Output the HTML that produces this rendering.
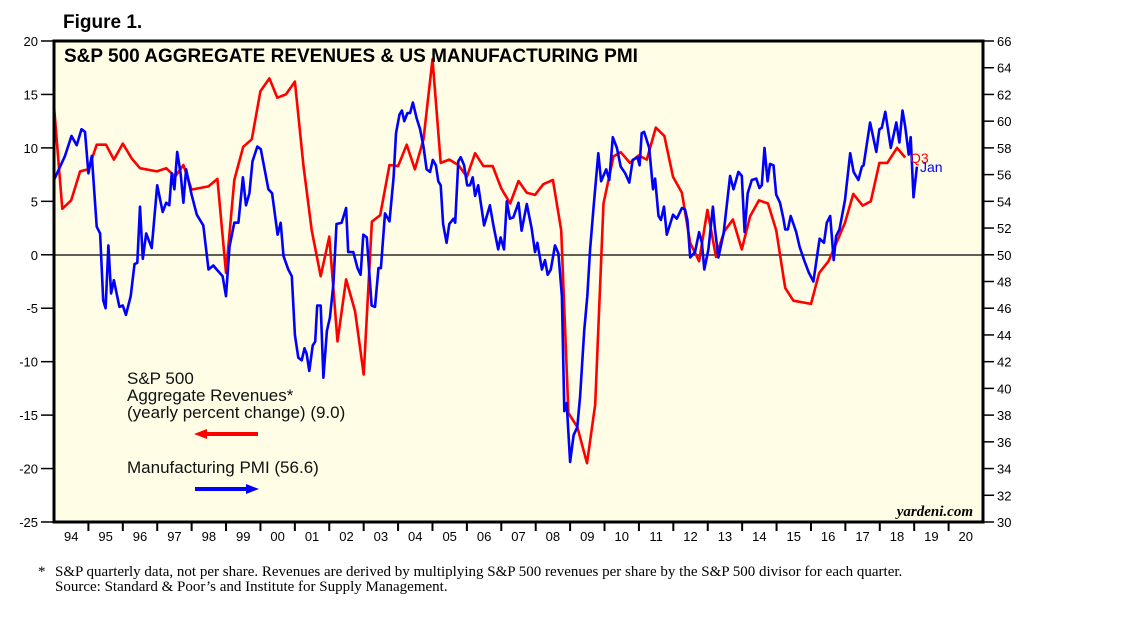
<!DOCTYPE html>
<html><head><meta charset="utf-8"><style>
html,body{margin:0;padding:0;background:#fff;}
svg{display:block;font-family:"Liberation Sans",sans-serif;}
</style></head><body>
<svg id="chart" width="1138" height="621" viewBox="0 0 1138 621">
<text x="63" y="28" font-size="19" font-weight="bold">Figure 1.</text>
<rect x="54" y="41" width="929" height="481" fill="#fffde6"/>
<g id="axes"></g>
<line x1="54" x2="983" y1="255" y2="255" stroke="#000" stroke-width="1.2"/>
<g id="series"></g>
<rect x="54" y="41" width="929" height="481" fill="none" stroke="#000" stroke-width="3"/>
<text x="64" y="62" font-size="19" font-weight="bold">S&amp;P 500 AGGREGATE REVENUES &amp; US MANUFACTURING PMI</text>
<g font-size="17" fill="#111">
<text x="127" y="384">S&amp;P 500</text>
<text x="127" y="401">Aggregate Revenues*</text>
<text x="127" y="418">(yearly percent change) (9.0)</text>
<g><line x1="205" y1="434" x2="258" y2="434" stroke="#f00" stroke-width="4"/><polygon points="194,434 207,429 207,439" fill="#f00"/></g>
<text x="127" y="473">Manufacturing PMI (56.6)</text>
<g><line x1="195" y1="489" x2="248" y2="489" stroke="#00f" stroke-width="4"/><polygon points="259,489 246,484 246,494" fill="#00f"/></g>
</g>
<text x="910" y="163" font-size="14" fill="#f00">Q3</text>
<text x="920" y="172" font-size="14" fill="#00f">Jan</text>
<text x="973" y="516" font-size="15" font-style="italic" font-weight="bold" font-family="Liberation Serif,serif" text-anchor="end">yardeni.com</text>
<text x="38" y="576" font-size="15" font-family="Liberation Serif,serif">*</text>
<text x="55" y="576" font-size="15" font-family="Liberation Serif,serif">S&amp;P quarterly data, not per share. Revenues are derived by multiplying S&amp;P 500 revenues per share by the S&amp;P 500 divisor for each quarter.</text>
<text x="55" y="591" font-size="15" font-family="Liberation Serif,serif">Source: Standard &amp; Poor’s and Institute for Supply Management.</text>
</svg>
<script>
const revDates=[1994.0,1994.24,1994.5,1994.76,1995.0,1995.24,1995.51,1995.74,1996.0,1996.26,1996.5,1996.99,1997.26,1997.52,1997.76,1998.0,1998.49,1998.75,1999.0,1999.24,1999.5,1999.75,2000.0,2000.26,2000.49,2000.74,2001.0,2001.25,2001.49,2001.75,2002.0,2002.24,2002.49,2002.75,2003.0,2003.24,2003.48,2003.75,2004.0,2004.25,2004.49,2004.74,2005.0,2005.24,2005.49,2005.75,2006.0,2006.24,2006.48,2006.75,2007.0,2007.26,2007.5,2007.74,2007.98,2008.22,2008.5,2008.74,2008.95,2009.21,2009.49,2009.73,2009.97,2010.26,2010.47,2010.74,2010.99,2011.23,2011.49,2011.74,2011.99,2012.25,2012.49,2012.75,2012.99,2013.24,2013.48,2013.73,2013.99,2014.23,2014.49,2014.75,2014.99,2015.25,2015.49,2016.0,2016.24,2016.51,2016.75,2016.99,2017.23,2017.5,2017.74,2017.99,2018.22,2018.5,2018.74];
const revValues=[13.9,4.3,5.1,7.8,8.0,10.3,10.3,8.9,10.4,9.0,8.1,7.8,8.1,7.3,8.4,6.1,6.4,7.1,-1.7,7.0,10.1,10.8,15.3,16.5,14.7,15.0,16.2,8.3,2.3,-2.0,1.7,-8.1,-2.3,-5.3,-11.2,3.1,3.7,8.4,8.3,10.3,8.0,10.8,18.3,8.6,8.9,8.4,7.3,9.5,8.3,8.3,6.2,4.8,6.9,5.8,5.6,6.6,7.0,2.3,-14.8,-16.1,-19.5,-14.0,4.8,9.2,9.6,8.6,9.3,8.9,11.9,11.1,7.3,5.8,1.1,-0.6,4.2,-0.2,2.2,3.3,0.5,3.6,5.1,4.8,2.3,-3.1,-4.3,-4.6,-1.7,-0.6,1.2,3.0,5.7,4.6,5.0,8.6,8.6,10.0,9.1];
const pmiDates=[1994.0,1994.32,1994.51,1994.66,1994.8,1994.9,1995.0,1995.1,1995.24,1995.34,1995.43,1995.5,1995.58,1995.66,1995.74,1995.9,1996.0,1996.09,1996.23,1996.34,1996.42,1996.5,1996.58,1996.68,1996.84,1997.0,1997.16,1997.26,1997.35,1997.42,1997.5,1997.58,1997.68,1997.76,1997.84,1998.0,1998.15,1998.34,1998.49,1998.63,1998.73,1998.9,1999.0,1999.1,1999.24,1999.36,1999.49,1999.58,1999.68,1999.77,1999.91,2000.01,2000.23,2000.34,2000.5,2000.59,2000.67,2000.81,2000.91,2001.0,2001.1,2001.2,2001.28,2001.34,2001.42,2001.52,2001.59,2001.65,2001.75,2001.83,2001.93,2002.02,2002.12,2002.21,2002.36,2002.49,2002.55,2002.7,2002.82,2002.91,2002.99,2003.09,2003.23,2003.33,2003.43,2003.5,2003.62,2003.75,2003.87,2003.94,2004.04,2004.11,2004.18,2004.27,2004.35,2004.43,2004.54,2004.64,2004.74,2004.83,2004.93,2005.01,2005.1,2005.17,2005.24,2005.31,2005.41,2005.49,2005.61,2005.66,2005.75,2005.82,2005.92,2006.01,2006.09,2006.17,2006.24,2006.33,2006.5,2006.67,2006.77,2006.91,2006.98,2007.08,2007.16,2007.25,2007.35,2007.5,2007.59,2007.74,2007.88,2007.98,2008.05,2008.18,2008.27,2008.35,2008.44,2008.56,2008.66,2008.76,2008.83,2008.9,2009.0,2009.1,2009.21,2009.29,2009.41,2009.5,2009.58,2009.68,2009.82,2009.9,2010.05,2010.14,2010.24,2010.36,2010.47,2010.6,2010.72,2010.82,2010.96,2011.02,2011.08,2011.15,2011.3,2011.41,2011.47,2011.57,2011.64,2011.73,2011.81,2011.99,2012.1,2012.25,2012.34,2012.41,2012.49,2012.63,2012.75,2012.83,2012.9,2013.02,2013.15,2013.21,2013.31,2013.46,2013.65,2013.75,2013.89,2013.99,2014.07,2014.16,2014.28,2014.41,2014.5,2014.57,2014.65,2014.74,2014.81,2014.91,2014.99,2015.1,2015.2,2015.25,2015.33,2015.41,2015.57,2015.67,2015.8,2015.93,2016.07,2016.25,2016.38,2016.46,2016.56,2016.66,2016.73,2016.83,2016.99,2017.14,2017.24,2017.38,2017.48,2017.53,2017.72,2017.9,2017.99,2018.06,2018.16,2018.32,2018.48,2018.57,2018.66,2018.74,2018.84,2018.9,2018.98,2019.08];
const pmiValues=[55.6,57.4,58.9,58.2,59.4,59.2,56.1,57.4,52.1,51.6,46.6,46.0,50.7,47.1,48.1,46.1,46.2,45.5,46.9,49.3,49.4,53.6,49.7,51.6,50.5,55.2,53.2,53.9,53.7,56.1,54.9,57.7,56.1,53.9,56.4,54.5,53.0,52.2,48.9,49.2,48.9,48.4,46.9,50.6,52.4,52.4,55.8,53.7,54.6,57.0,58.1,57.9,54.9,54.6,51.5,52.4,49.9,48.9,48.4,44.0,42.3,42.1,43.0,42.6,41.3,43.2,43.5,46.2,46.2,40.8,44.3,45.3,47.8,52.3,52.4,53.5,50.2,50.2,49.0,48.5,51.5,51.3,46.2,46.1,49.0,49.0,53.1,52.5,55.8,59.1,60.5,60.8,60.0,60.6,60.6,61.4,60.2,59.4,58.1,56.4,56.2,57.1,56.7,55.5,55.2,52.3,50.9,52.3,52.7,52.4,57.0,57.3,56.7,55.2,55.2,55.8,54.4,55.2,52.2,53.7,52.2,50.4,51.3,50.4,54.0,52.7,52.8,53.9,51.8,53.8,52.0,50.2,50.9,48.9,49.6,48.5,48.9,50.7,50.1,46.9,38.3,38.9,34.5,36.5,37.1,39.4,44.3,46.9,50.4,53.5,57.6,55.5,56.4,55.6,58.8,58.0,56.6,56.1,55.4,57.1,57.3,56.7,59.1,59.2,58.0,54.9,55.7,52.9,52.6,53.6,51.5,53.0,52.7,53.5,53.4,52.6,49.8,50.2,51.7,50.9,48.9,50.4,53.6,51.9,49.8,51.6,55.9,54.9,56.2,55.9,51.7,54.6,55.6,55.7,55.0,55.2,58.0,55.5,56.8,56.7,54.5,53.9,52.7,51.9,51.9,52.9,51.7,50.6,49.6,48.7,48.0,51.2,50.9,52.4,52.9,49.6,51.4,51.9,54.1,57.6,56.2,55.6,56.6,56.7,59.9,57.7,59.4,59.5,60.7,58.0,59.9,58.4,60.8,59.6,57.5,58.8,54.3,56.6];
const leftTicks=[20,15,10,5,0,-5,-10,-15,-20,-25];
const rightTicks=[66,64,62,60,58,56,54,52,50,48,46,44,42,40,38,36,34,32,30];
const yearLabels=["94","95","96","97","98","99","00","01","02","03","04","05","06","07","08","09","10","11","12","13","14","15","16","17","18","19","20"];

const NS="http://www.w3.org/2000/svg";
const X0=54,X1=983,T0=1994,T1=2021,Y0=41,Y1=522;
const xs=t=>X0+(t-T0)/(T1-T0)*(X1-X0);
const yl=v=>Y0+(20-v)/45*(Y1-Y0);
const yr=v=>Y0+(66-v)/36*(Y1-Y0);
function mk(tag,attrs,parent){const e=document.createElementNS(NS,tag);for(const k in attrs)e.setAttribute(k,attrs[k]);parent.appendChild(e);return e;}
const axes=document.getElementById('axes'),series=document.getElementById('series');

leftTicks.forEach(v=>{const y=yl(v);
 const l=mk('line',{x1:41,x2:54,y1:y,y2:y,stroke:'#000','stroke-width':1.5},axes);
 
 
 const t=mk('text',{x:38,y:y+5,'font-size':13,'text-anchor':'end'},axes);t.textContent=v;
 
 
});
rightTicks.forEach(v=>{const y=yr(v);
 const l=mk('line',{x1:983,x2:994,y1:y,y2:y,stroke:'#000','stroke-width':1.5},axes);
 
 
 const t=mk('text',{x:997,y:y+5,'font-size':13},axes);t.textContent=v;
 
 
});
yearLabels.forEach((lab,i)=>{
 const xb=xs(T0+i+1);
 if(i<yearLabels.length-1){const l=mk('line',{x1:xb,x2:xb,y1:522,y2:531,stroke:'#000','stroke-width':2},axes);
 
 }
 const t=mk('text',{x:xs(T0+i+0.5),y:541,'font-size':13,'text-anchor':'middle'},axes);t.textContent=lab;
 
 
});
const rp=mk('polyline',{points:revDates.map((d,i)=>xs(d).toFixed(1)+','+yl(revValues[i]).toFixed(1)).join(' '),fill:'none',stroke:'#ff0000','stroke-width':2.6,'stroke-linejoin':'round'},series);


const pp=mk('polyline',{points:pmiDates.map((d,i)=>xs(d).toFixed(1)+','+yr(pmiValues[i]).toFixed(1)).join(' '),fill:'none',stroke:'#0000ff','stroke-width':2.6,'stroke-linejoin':'round'},series);


</script>
</body></html>
